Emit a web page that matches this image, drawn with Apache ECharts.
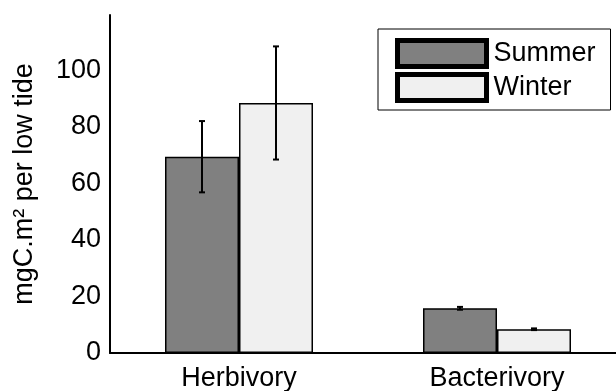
<!DOCTYPE html>
<html>
<head>
<meta charset="utf-8">
<script src="https://cdn.jsdelivr.net/npm/echarts@6/dist/echarts.min.js"></script>
<style>
  html, body { margin: 0; padding: 0; background: #fff; }
  #chart { width: 616px; height: 391px; }
</style>
</head>
<body>
<div id="chart"></div>
<script>
// data
const categories = ['Herbivory', 'Bacterivory']
const summerValues = [69.4, 15.8]
const winterValues = [88.4, 8.4]
const summerErrors = [12.6, 0.5]
const winterErrors = [20.0, 0.3]

const FONT = 'Liberation Sans, Arial, sans-serif'
const BAR_W = 74

const chart = echarts.init(document.getElementById('chart'))

// error bar items: [category index, low, high, side (-1 summer, +1 winter)]
const errData = []
categories.forEach((c, i) => {
  errData.push([i, summerValues[i] - summerErrors[i], summerValues[i] + summerErrors[i], -1])
  errData.push([i, winterValues[i] - winterErrors[i], winterValues[i] + winterErrors[i], 1])
})

const renderErr = (params, api) => {
  const i = api.value(0)
  const side = api.value(3)
  const lo = api.coord([i, api.value(1)])
  const hi = api.coord([i, api.value(2)])
  const x = lo[0] + side * BAR_W / 2
  const cap = 3
  const style = { stroke: '#000', lineWidth: 2 }
  return {
    type: 'group',
    children: [
      { type: 'line', shape: { x1: x, y1: lo[1], x2: x, y2: hi[1] }, style },
      { type: 'line', shape: { x1: x - cap, y1: lo[1], x2: x + cap, y2: lo[1] }, style },
      { type: 'line', shape: { x1: x - cap, y1: hi[1], x2: x + cap, y2: hi[1] }, style }
    ]
  }
}

const option = {
  animation: false,
  // x axis runs a little past the right edge of the canvas
  grid: { left: 110, width: 516, top: 15, bottom: 38, outerBoundsMode: 'none' },
  legend: {
    orient: 'vertical',
    left: 378,
    top: 29,
    data: ['Summer', 'Winter'],
    icon: 'rect',
    itemWidth: 89,
    itemHeight: 26,
    itemGap: 3,
    padding: [9, 15, 7, 17],
    borderColor: '#000',
    borderWidth: 1,
    itemStyle: { borderColor: '#000', borderWidth: 5 },
    textStyle: { fontFamily: FONT, fontSize: 27, lineHeight: 28, color: '#000', padding: [0, 0, 0, 2] }
  },
  xAxis: {
    type: 'category',
    data: categories,
    axisLine: { lineStyle: { color: '#000', width: 2 } },
    axisTick: { show: false },
    axisLabel: { fontFamily: FONT, fontSize: 27, color: '#000', margin: 12 }
  },
  yAxis: {
    type: 'value',
    min: 0,
    max: 119.5,
    interval: 20,
    name: 'mgC.m² per low tide',
    nameLocation: 'middle',
    nameGap: 72,
    nameTextStyle: { fontFamily: FONT, fontSize: 27, color: '#000' },
    splitLine: { show: false },
    axisLine: { show: true, lineStyle: { color: '#000', width: 2 } },
    axisTick: { show: false },
    axisLabel: {
      fontFamily: FONT, fontSize: 27, color: '#000', margin: 9,
      formatter: v => (v > 100 ? '' : v)
    }
  },
  series: [
    {
      name: 'Summer',
      type: 'bar',
      data: summerValues,
      barWidth: BAR_W,
      barGap: '0%',
      itemStyle: { color: '#808080', borderColor: '#000', borderWidth: 1.5 }
    },
    {
      name: 'Winter',
      type: 'bar',
      data: winterValues,
      barWidth: BAR_W,
      barGap: '0%',
      itemStyle: { color: '#f0f0f0', borderColor: '#000', borderWidth: 1.5 }
    },
    {
      type: 'custom',
      renderItem: renderErr,
      data: errData,
      encode: { x: 0, y: [1, 2] },
      z: 10
    }
  ]
}

chart.setOption(option)
</script>
</body>
</html>
